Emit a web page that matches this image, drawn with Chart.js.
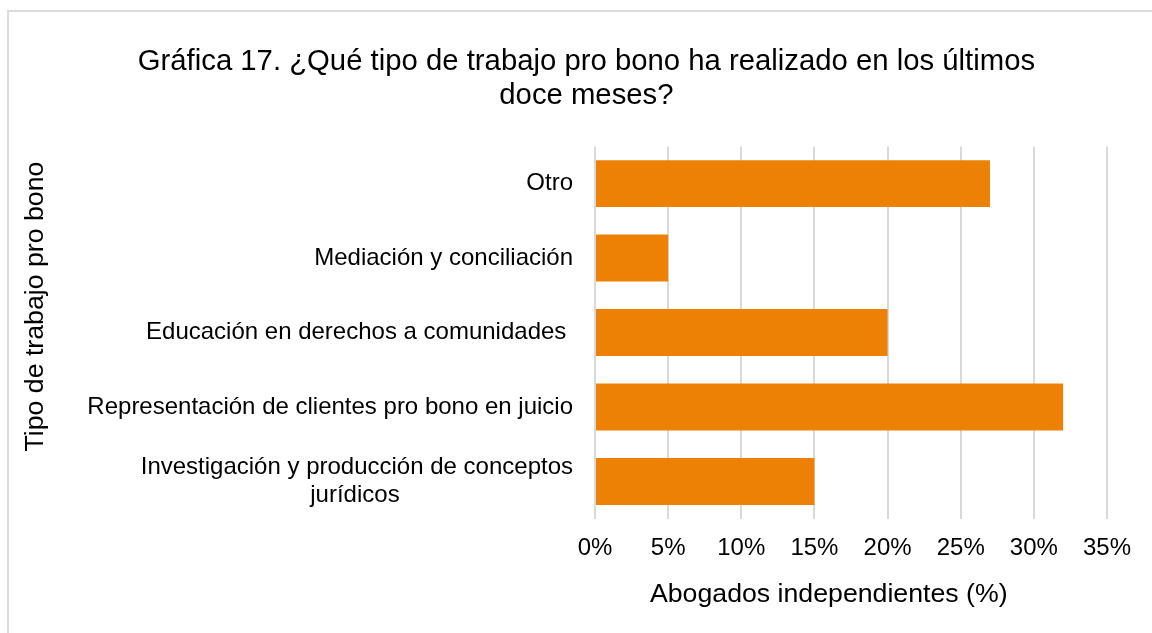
<!DOCTYPE html>
<html lang="es">
<head>
<meta charset="utf-8">
<title>Gráfica 17</title>
<script src="https://cdn.jsdelivr.net/npm/chart.js@4.4.1/dist/chart.umd.min.js"></script>
<style>
  html, body { margin: 0; padding: 0; background: #fff; overflow: hidden; }
  .frame {
    position: absolute; left: 7px; top: 10px;
    width: 1300px; height: 800px;
    border: 2px solid #dcdcdc;
  }
  .chart-box { position: absolute; left: 0; top: 0; width: 1176px; height: 633px; }
</style>
</head>
<body>
<div class="frame"></div>
<div class="chart-box"><canvas id="myChart"></canvas></div>
<script>
/* data */
const categories = [
  'Otro',
  'Mediación y conciliación',
  'Educación en derechos a comunidades ',
  'Representación de clientes pro bono en juicio',
  ['Investigación y producción de conceptos', 'jurídicos']
];
const values = [27, 5, 20, 32, 15];
const xTicks = [0, 5, 10, 15, 20, 25, 30, 35];

const FONT = '"Liberation Sans", Arial, sans-serif';
const barColor = '#ec8106';
const gridColor = '#d9d9d9';

// center the shorter lines of a wrapped label under the longest one
const measureCtx = document.createElement('canvas').getContext('2d');
measureCtx.font = '24px ' + FONT;
const centerLines = function (label) {
  if (!Array.isArray(label)) return label;
  const widths = label.map(l => measureCtx.measureText(l).width);
  const maxW = Math.max(...widths);
  const space = measureCtx.measureText(' ').width;
  return label.map((l, i) => l + ' '.repeat(Math.round((maxW - widths[i]) / 2 / space)));
}

// the original titles sit a little off the centre of their axes
const pad = n => ' '.repeat(n);

const ctx = document.getElementById('myChart');

new Chart(ctx, {
  type: 'bar',
  data: {
    labels: categories,
    datasets: [{
      label: 'Abogados independientes (%)',
      data: values,
      backgroundColor: barColor,
      borderWidth: 0,
      categoryPercentage: 1,
      barPercentage: 0.63
    }]
  },
  options: {
    indexAxis: 'y',
    responsive: true,
    maintainAspectRatio: false,
    animation: false,
    layout: {
      padding: { left: 17, right: 69, top: 10, bottom: 0 }
    },
    scales: {
      x: {
        min: xTicks[0],
        max: xTicks[xTicks.length - 1],
        afterBuildTicks: function (scale) {
          scale.ticks = xTicks.map(v => ({ value: v }));
        },
        grid: { color: gridColor, lineWidth: 2, drawTicks: false },
        border: { display: false },
        ticks: {
          color: '#000',
          font: { family: FONT, size: 24 },
          padding: 15,
          callback: v => v + '%'
        },
        title: {
          display: true,
          text: 'Abogados independientes (%)' + pad(6),
          color: '#000',
          font: { family: FONT, size: 26.7 },
          padding: { top: 1.5, bottom: 22 }
        }
      },
      y: {
        // long labels: keep the full width instead of the half-chart cap
        afterFit: function (scale) {
          scale.width = 578;
        },
        grid: { display: false, drawTicks: false },
        border: { display: false },
        ticks: {
          color: '#000',
          font: { family: FONT, size: 24 },
          padding: 22,
          callback: function (value) {
            return centerLines(categories[value]);
          }
        },
        title: {
          display: true,
          text: pad(7) + 'Tipo de trabajo pro bono',
          color: '#000',
          font: { family: FONT, size: 26.7 },
          padding: { top: 3, bottom: 10 }
        }
      }
    },
    plugins: {
      legend: { display: false },
      tooltip: { enabled: false },
      title: {
        display: true,
        text: [
          pad(6) + 'Gráfica 17. ¿Qué tipo de trabajo pro bono ha realizado en los últimos',
          pad(6) + 'doce meses?'
        ],
        color: '#000',
        font: { family: FONT, size: 29.3, weight: 'normal', lineHeight: 1.15 },
        padding: { top: 35, bottom: 34 }
      }
    }
  }
});
</script>
</body>
</html>
